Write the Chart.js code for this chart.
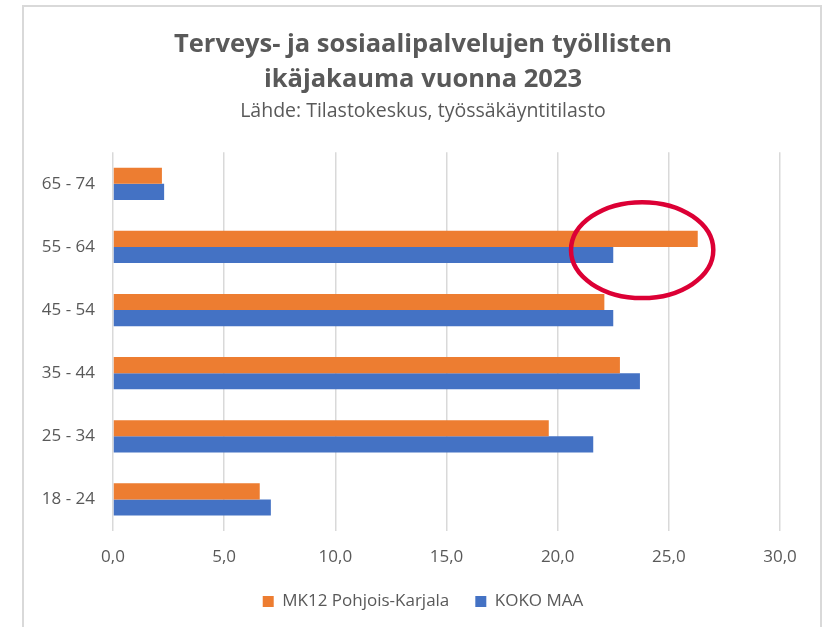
<!DOCTYPE html>
<html lang="fi">
<head>
    <meta charset="UTF-8">
    <title>Terveys- ja sosiaalipalvelujen työllisten ikäjakauma vuonna 2023</title>
    <script src="https://cdn.jsdelivr.net/npm/chart.js"></script>
    <style>
        body { margin: 0; background: #fff; }
        #wrap { position: relative; width: 833px; height: 627px; overflow: hidden; }
        #frame { position: absolute; left: 22px; top: 5px; width: 800px; height: 640px; border: 2px solid #d9d9d9; box-sizing: border-box; }
        canvas { position: absolute; left: 0; top: 0; }
    </style>
</head>
<body>
<div id="wrap">
    <div id="frame"></div>
    <canvas id="ageChart" width="833" height="627"></canvas>
</div>
<script>
    // ikäryhmät ylhäältä alas
    const ageGroups = ['65 - 74', '55 - 64', '45 - 54', '35 - 44', '25 - 34', '18 - 24'];
    // osuus työllisistä (%)
    const pohjoisKarjala = [2.2, 26.3, 22.1, 22.8, 19.6, 6.6];
    const kokoMaa = [2.3, 22.5, 22.5, 23.7, 21.6, 7.1];
    const xTicks = [0, 5, 10, 15, 20, 25, 30];

    // punainen ympyrä 55-64 ryhmän ympärillä (arvoyksiköissä)
    const highlight = { category: '55 - 64', x: 23.8, rx: 3.2, dy: 0.05, ry: 0.76 };

    const ellipsePlugin = {
        id: 'ellipse',
        afterDatasetsDraw(chart) {
            const xs = chart.scales.x, ys = chart.scales.y;
            const idx = ageGroups.indexOf(highlight.category);
            const step = ys.getPixelForValue(1) - ys.getPixelForValue(0);
            const cx = xs.getPixelForValue(highlight.x);
            const cy = ys.getPixelForValue(idx) + highlight.dy * step;
            const rx = xs.getPixelForValue(highlight.x + highlight.rx) - cx;
            const ry = highlight.ry * step;
            const ctx = chart.ctx;
            ctx.save();
            ctx.beginPath();
            ctx.ellipse(cx, cy, rx, ry, 0, 0, Math.PI * 2);
            ctx.strokeStyle = '#DC0035';
            ctx.lineWidth = 4.5;
            ctx.stroke();
            ctx.restore();
        }
    };

    const font = 'Open Sans';
    const ctx = document.getElementById('ageChart').getContext('2d');
    new Chart(ctx, {
        type: 'bar',
        data: {
            labels: ageGroups,
            datasets: [{
                label: 'MK12 Pohjois-Karjala',
                data: pohjoisKarjala,
                backgroundColor: '#ED7D31'
            }, {
                label: 'KOKO MAA',
                data: kokoMaa,
                backgroundColor: '#4472C4'
            }]
        },
        options: {
            indexAxis: 'y',
            responsive: false,
            animation: false,
            layout: { padding: { left: 66, right: 53, top: 0, bottom: 7 } },
            datasets: { bar: { barPercentage: 1, categoryPercentage: 0.51 } },
            scales: {
                x: {
                    min: 0, max: 30,
                    afterBuildTicks(scale) { scale.ticks = xTicks.map(v => ({ value: v })); },
                    afterFit(scale) {
                        scale.height = 36;
                        scale._computeLabelArea = () => undefined;
                    },
                    grid: { color: '#d9d9d9', lineWidth: 1.5, drawTicks: false },
                    border: { display: false },
                    ticks: {
                        color: '#595959',
                        font: { family: font, size: 17 },
                        padding: 16,
                        maxRotation: 0,
                        callback: v => v.toFixed(1).replace('.', ',')
                    }
                },
                y: {
                    grid: { display: false },
                    border: { display: false },
                    afterFit(scale) {
                        scale.width = 47;
                        // nimikkeet saavat ulottua akselin vasemman reunan yli
                        scale._computeLabelArea = () => undefined;
                    },
                    ticks: {
                        color: '#595959',
                        font: { family: font, size: 17 },
                        padding: 10
                    }
                }
            },
            plugins: {
                title: {
                    display: true,
                    text: ['Terveys- ja sosiaalipalvelujen työllisten', 'ikäjakauma vuonna 2023'],
                    color: '#595959',
                    font: { family: font, size: 25.5, weight: 'bold', lineHeight: 1.37 },
                    padding: { top: 27, bottom: 3 }
                },
                subtitle: {
                    display: true,
                    text: 'Lähde: Tilastokeskus, työssäkäyntitilasto',
                    color: '#595959',
                    font: { family: font, size: 19.5 },
                    padding: { top: 0, bottom: 29 }
                },
                legend: {
                    position: 'bottom',
                    labels: {
                        color: '#595959',
                        font: { family: font, size: 17 },
                        boxWidth: 11,
                        boxHeight: 11,
                        padding: 26
                    }
                },
                tooltip: { enabled: false }
            }
        },
        plugins: [ellipsePlugin]
    });
</script>
</body>
</html>
